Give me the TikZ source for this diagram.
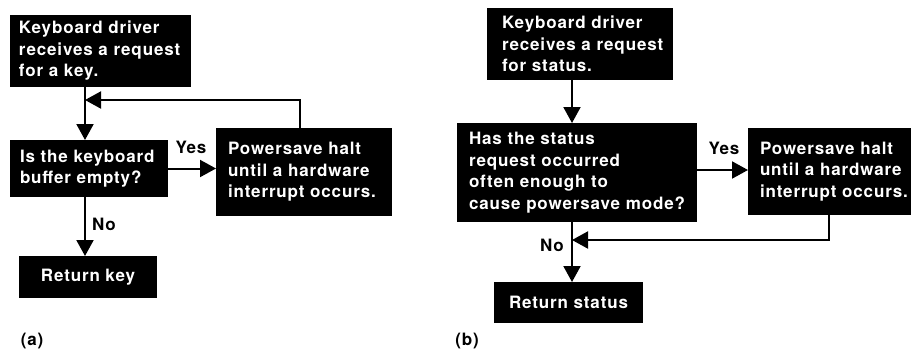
\documentclass[tikz,border=0pt]{standalone}
\usepackage{fontspec}
\usetikzlibrary{arrows.meta}
\newfontfamily\hv{TeX Gyre Heros}[LetterSpace=5]
\newcommand\nb[1]{\mbox{#1}}
\begin{document}
\begin{tikzpicture}[x=1pt,y=-1pt,
  box/.style={fill=black,text=white,inner ysep=0pt,outer sep=0pt,align=left,
    font=\hv\bfseries\fontsize{17}{21.5}\selectfont},
  cbox/.style={fill=black,text=white,inner sep=0pt,outer sep=0pt,align=center,
    font=\hv\bfseries\fontsize{17}{21.5}\selectfont},
  lbl/.style={inner sep=0pt,font=\hv\bfseries\fontsize{17}{21}\selectfont},
  arr/.style={-{Triangle[length=16pt,width=17pt]},line width=2pt}]
\useasboundingbox[fill=white] (0,0) rectangle (911,349);
% ---------- panel (a)
\node[box,inner xsep=9pt,minimum width=181pt,minimum height=72pt,text width=163pt] (A1) at (100.5,51)
  {\nb{Keyboard driver}\\\nb{receives a request}\\\nb{for a key.}};
\node[box,inner xsep=10pt,minimum width=158pt,minimum height=57pt,text width=138pt] (A2) at (89,168.5)
  {\nb{Is the keyboard}\\\nb{buffer empty?}};
\node[box,inner xsep=12pt,minimum width=176pt,minimum height=88pt,text width=152pt] (A3) at (304,172)
  {\nb{Powersave halt}\\\nb{until a hardware}\\\nb{interrupt occurs.}};
\node[cbox,minimum width=138pt,minimum height=42pt] (A4) at (88,277) {Return key};
\coordinate (va) at (85,0);
\coordinate (fa) at (300,100);
\draw[arr] (A1.south -| va) -- (A2.north -| va);
\draw[arr] (A2.south -| va) -- (A4.north -| va);
\draw[arr] (A2.east) -- (A2.east -| A3.west);
\draw[arr] (A3.north -| fa) -- (fa) -- (fa -| va);
\node[lbl] (yesa) at (191,147) {Yes};
\node[lbl] (noa) at (104,224) {No};
\node[lbl] (capa) at (32,341) {(a)};
% ---------- panel (b)
\node[box,inner xsep=15pt,minimum width=186pt,minimum height=72pt,text width=156pt] (B1) at (580,44)
  {\nb{Keyboard driver}\\\nb{receives a request}\\\nb{for status.}};
\node[box,inner xsep=12pt,minimum width=240pt,minimum height=99pt,text width=216pt] (B2) at (577,172.5)
  {\nb{Has the status}\\\nb{request occurred}\\\nb{often enough to}\\\nb{cause powersave mode?}};
\node[box,inner xsep=12pt,minimum width=163pt,minimum height=87pt,text width=139pt] (B3) at (829.5,171.5)
  {\nb{Powersave halt}\\\nb{until a hardware}\\\nb{interrupt occurs.}};
\node[cbox,minimum width=149pt,minimum height=41pt] (B4) at (568.5,302.5) {Return status};
\coordinate (vb) at (572,0);
\coordinate (yb) at (0,170);
\coordinate (fb) at (829,240);
\draw[arr] (B1.south -| vb) -- (B2.north -| vb);
\draw[arr] (B2.south -| vb) -- (B4.north -| vb);
\draw[arr] (B2.east |- yb) -- (B3.west |- yb);
\draw[arr] (B3.south -| fb) -- (fb) -- (fb -| vb);
\node[lbl] (yesb) at (724,148) {Yes};
\node[lbl] (nob) at (552,245) {No};
\node[lbl] (capb) at (467,341) {(b)};
\end{tikzpicture}
\end{document}
